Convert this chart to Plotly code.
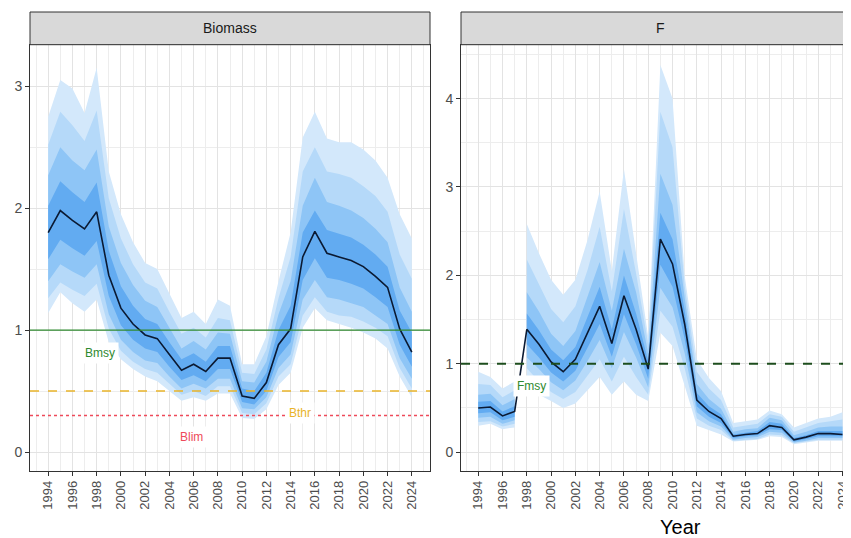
import plotly.graph_objects as go

years = list(range(1994, 2025))

# Biomass: median and quantile bands (inner -> outer)
b_med = [1.80, 1.98, 1.90, 1.83, 1.97, 1.45, 1.18, 1.05, 0.96, 0.93, 0.80, 0.67, 0.72, 0.66, 0.77, 0.77,
         0.46, 0.44, 0.57, 0.88, 1.01, 1.60, 1.81, 1.63, 1.60, 1.57, 1.52, 1.44, 1.35, 1.01, 0.82]
b_u1 = [2.02, 2.22, 2.13, 2.05, 2.21, 1.65, 1.36, 1.20, 1.09, 1.05, 0.90, 0.76, 0.81, 0.74, 0.87, 0.87,
        0.52, 0.50, 0.65, 1.00, 1.20, 1.80, 1.98, 1.82, 1.79, 1.76, 1.70, 1.62, 1.52, 1.16, 0.98]
b_u2 = [2.27, 2.50, 2.39, 2.31, 2.48, 1.85, 1.55, 1.37, 1.24, 1.19, 1.02, 0.85, 0.91, 0.84, 0.98, 0.97,
        0.58, 0.57, 0.74, 1.13, 1.40, 2.02, 2.25, 2.05, 2.02, 1.98, 1.92, 1.83, 1.72, 1.35, 1.15]
b_u3 = [2.52, 2.79, 2.68, 2.55, 2.80, 2.08, 1.75, 1.54, 1.39, 1.34, 1.15, 0.97, 1.02, 0.94, 1.10, 1.08,
        0.65, 0.64, 0.84, 1.26, 1.60, 2.30, 2.50, 2.30, 2.28, 2.25, 2.18, 2.10, 1.97, 1.62, 1.42]
b_u4 = [2.75, 3.05, 2.98, 2.78, 3.15, 2.30, 1.95, 1.72, 1.55, 1.50, 1.30, 1.10, 1.15, 1.05, 1.25, 1.20,
        0.72, 0.72, 0.95, 1.40, 1.80, 2.58, 2.79, 2.57, 2.54, 2.54, 2.48, 2.39, 2.25, 1.95, 1.75]
b_l1 = [1.58, 1.74, 1.67, 1.61, 1.73, 1.28, 1.04, 0.92, 0.85, 0.82, 0.70, 0.59, 0.63, 0.58, 0.68, 0.68,
        0.41, 0.39, 0.50, 0.78, 0.90, 1.41, 1.59, 1.43, 1.41, 1.38, 1.34, 1.27, 1.19, 0.88, 0.70]
b_l2 = [1.40, 1.54, 1.48, 1.43, 1.54, 1.13, 0.92, 0.82, 0.75, 0.73, 0.62, 0.52, 0.56, 0.52, 0.60, 0.60,
        0.36, 0.35, 0.45, 0.69, 0.80, 1.25, 1.41, 1.27, 1.25, 1.22, 1.19, 1.12, 1.05, 0.77, 0.60]
b_l3 = [1.26, 1.39, 1.33, 1.28, 1.38, 1.01, 0.83, 0.74, 0.68, 0.65, 0.56, 0.47, 0.50, 0.46, 0.54, 0.54,
        0.32, 0.31, 0.40, 0.62, 0.72, 1.12, 1.27, 1.15, 1.12, 1.11, 1.07, 1.02, 0.95, 0.69, 0.52]
b_l4 = [1.14, 1.31, 1.22, 1.15, 1.25, 0.90, 0.76, 0.68, 0.62, 0.58, 0.50, 0.42, 0.45, 0.42, 0.48, 0.48,
        0.28, 0.27, 0.35, 0.55, 0.65, 1.02, 1.18, 1.08, 1.05, 1.02, 0.98, 0.93, 0.85, 0.62, 0.45]

# Fishing mortality: median and quantile bands
f_med = [0.50, 0.51, 0.41, 0.46, 1.39, 1.22, 1.02, 0.91, 1.05, 1.35, 1.65, 1.23, 1.77, 1.39, 0.94, 2.41,
         2.13, 1.45, 0.59, 0.46, 0.38, 0.18, 0.20, 0.21, 0.30, 0.28, 0.14, 0.17, 0.21, 0.21, 0.20]
f_u1 = [0.57, 0.58, 0.46, 0.52, 1.57, 1.38, 1.16, 1.04, 1.19, 1.53, 1.87, 1.39, 2.00, 1.57, 1.03, 2.71,
        2.41, 1.60, 0.67, 0.52, 0.43, 0.20, 0.22, 0.24, 0.34, 0.32, 0.16, 0.19, 0.24, 0.24, 0.24]
f_u2 = [0.65, 0.66, 0.53, 0.60, 1.81, 1.59, 1.34, 1.20, 1.37, 1.76, 2.15, 1.60, 2.30, 1.81, 1.12, 3.15,
        2.80, 1.75, 0.77, 0.60, 0.49, 0.23, 0.26, 0.27, 0.39, 0.36, 0.19, 0.23, 0.28, 0.29, 0.29]
f_u3 = [0.77, 0.76, 0.62, 0.70, 2.18, 1.90, 1.62, 1.47, 1.65, 2.06, 2.55, 1.82, 2.75, 2.02, 1.22, 3.85,
        3.45, 1.88, 0.91, 0.72, 0.59, 0.28, 0.30, 0.32, 0.43, 0.40, 0.23, 0.28, 0.33, 0.35, 0.37]
f_u4 = [0.91, 0.85, 0.72, 0.80, 2.58, 2.25, 1.95, 1.78, 1.95, 2.40, 2.95, 2.05, 3.20, 2.25, 1.30, 4.38,
        4.00, 2.00, 1.05, 0.84, 0.69, 0.33, 0.35, 0.37, 0.47, 0.43, 0.28, 0.33, 0.38, 0.40, 0.45]
f_l1 = [0.44, 0.45, 0.36, 0.40, 1.22, 1.07, 0.90, 0.80, 0.92, 1.18, 1.45, 1.08, 1.56, 1.22, 0.83, 2.12,
        1.87, 1.28, 0.52, 0.40, 0.33, 0.16, 0.18, 0.19, 0.26, 0.25, 0.12, 0.15, 0.18, 0.18, 0.18]
f_l2 = [0.39, 0.40, 0.32, 0.36, 1.07, 0.94, 0.79, 0.70, 0.81, 1.03, 1.27, 0.95, 1.36, 1.07, 0.73, 1.86,
        1.64, 1.12, 0.45, 0.35, 0.29, 0.14, 0.16, 0.17, 0.23, 0.22, 0.11, 0.13, 0.16, 0.16, 0.16]
f_l3 = [0.34, 0.35, 0.29, 0.32, 0.95, 0.80, 0.68, 0.60, 0.68, 0.87, 1.05, 0.80, 1.08, 0.85, 0.65, 1.60,
        1.42, 0.95, 0.38, 0.30, 0.25, 0.13, 0.14, 0.15, 0.20, 0.19, 0.10, 0.12, 0.14, 0.14, 0.14]
f_l4 = [0.30, 0.32, 0.26, 0.28, 0.85, 0.65, 0.58, 0.50, 0.55, 0.70, 0.85, 0.65, 0.80, 0.65, 0.58, 1.35,
        1.20, 0.75, 0.30, 0.25, 0.20, 0.12, 0.13, 0.14, 0.18, 0.17, 0.09, 0.11, 0.13, 0.13, 0.13]
f_segments = [(1994, 1997), (1998, 2024)]

# reference points
bmsy, bthr, blim, fmsy = 1.0, 0.5, 0.3, 1.0

band_colors = ["#d3e8fb", "#b5d9f9", "#8ec5f6", "#62abf1"]
line_color = "#0b1a33"
font = "Liberation Sans, Arial, sans-serif"

# the page body adds an 8px margin, so the figure is a bit smaller than the window
W, H = 843, 530

fig = go.Figure()


def add_bands(uppers, lowers, med, xa, ya, segments):
    for (a, b) in segments:
        i0, i1 = years.index(a), years.index(b) + 1
        xs = years[i0:i1]
        for up, lo, col in zip(uppers, lowers, band_colors):
            fig.add_trace(go.Scatter(
                x=xs + xs[::-1], y=up[i0:i1] + lo[i0:i1][::-1],
                fill="toself", fillcolor=col, line=dict(width=0),
                mode="lines", hoverinfo="skip", showlegend=False,
                xaxis=xa, yaxis=ya))
    fig.add_trace(go.Scatter(x=years, y=med, mode="lines",
                             line=dict(color=line_color, width=1.6),
                             showlegend=False, xaxis=xa, yaxis=ya))


add_bands([b_u4, b_u3, b_u2, b_u1], [b_l4, b_l3, b_l2, b_l1], b_med, "x", "y", [(1994, 2024)])
add_bands([f_u4, f_u3, f_u2, f_u1], [f_l4, f_l3, f_l2, f_l1], f_med, "x2", "y2", f_segments)

# reference lines
fig.add_shape(type="line", xref="x domain", yref="y", x0=0, x1=1, y0=bmsy, y1=bmsy,
              line=dict(color="#2f8a2f", width=1.3), layer="above")
fig.add_shape(type="line", xref="x domain", yref="y", x0=0, x1=1, y0=bthr, y1=bthr,
              line=dict(color="#e9b42a", width=1.6, dash="dash"), layer="above")
fig.add_shape(type="line", xref="x domain", yref="y", x0=0, x1=1, y0=blim, y1=blim,
              line=dict(color="#ee4a5a", width=1.6, dash="dot"), layer="above")
fig.add_shape(type="line", xref="x2 domain", yref="y2", x0=0, x1=1, y0=fmsy, y1=fmsy,
              line=dict(color="#1d4d1d", width=2, dash="dash"), layer="above")

labels = [
    ("Bmsy", 1998.3, 0.81, "#2f8a2f", "x", "y"),
    ("Bthr", 2014.75, 0.32, "#e9b42a", "x", "y"),
    ("Blim", 2005.8, 0.12, "#ee4a5a", "x", "y"),
    ("Fmsy", 1998.4, 0.75, "#2f8a2f", "x2", "y2"),
]
for txt, xv, yv, col, xa, ya in labels:
    fig.add_annotation(text=txt, x=xv, y=yv, xref=xa, yref=ya, showarrow=False,
                       font=dict(color=col, size=12, family=font),
                       bgcolor="white", borderpad=3)

# panel positions (figure pixels)
left_x = (22, 422)
right_x = (453, 843)
plot_top, plot_bot = 36.7, 462.7
strip_top = 4


def px(x):
    return x / W


def py(y):
    return (H - y) / H


# facet strips
for (x0, x1), cx, title in [(left_x, 222, "Biomass"), ((right_x[0], W + 20), 652, "F")]:
    fig.add_shape(type="rect", xref="paper", yref="paper", x0=px(x0), x1=px(x1),
                  y0=py(plot_top), y1=py(strip_top), fillcolor="#d9d9d9",
                  line=dict(color="#333333", width=1))
    fig.add_annotation(text=title, xref="paper", yref="paper",
                       x=px(cx), y=py((plot_top + strip_top) / 2),
                       xanchor="center", yanchor="middle", showarrow=False,
                       font=dict(size=14, color="#1a1a1a", family=font))

fig.add_annotation(text="Year", xref="paper", yref="paper", x=px(672), y=py(519),
                   xanchor="center", yanchor="middle",
                   showarrow=False, font=dict(size=20, color="black", family=font))

xaxis_common = dict(
    tickmode="linear", tick0=1994, dtick=2, tickangle=-90,
    ticks="outside", ticklen=4, tickcolor="#333333",
    tickfont=dict(size=13, color="#4d4d4d", family=font),
    showgrid=True, gridcolor="#e3e3e3", gridwidth=1,
    minor=dict(dtick=1, tick0=1994, showgrid=True, gridcolor="#ededed", gridwidth=1),
    showline=True, linecolor="#333333", linewidth=1, zeroline=False,
)
yaxis_common = dict(
    tickmode="linear", tick0=0, dtick=1,
    ticks="outside", ticklen=4, tickcolor="#333333",
    tickfont=dict(size=14, color="#4d4d4d", family=font),
    showgrid=True, gridcolor="#e3e3e3", gridwidth=1,
    minor=dict(dtick=0.5, showgrid=True, gridcolor="#ededed", gridwidth=1),
    showline=True, linecolor="#333333", linewidth=1, zeroline=False,
)

ydom = [py(plot_bot), py(plot_top)]
fig.update_layout(
    width=W, height=H,
    margin=dict(l=0, r=0, t=0, b=0),
    paper_bgcolor="white", plot_bgcolor="white",
    font=dict(family=font),
    xaxis=dict(xaxis_common, domain=[px(left_x[0]), px(left_x[1])], range=[1992.5, 2025.5],
               mirror=True, anchor="y"),
    yaxis=dict(yaxis_common, domain=ydom, range=[-0.153, 3.34], mirror=True, anchor="x"),
    xaxis2=dict(xaxis_common, domain=[px(right_x[0]), 1.0], range=[1992.58, 2024.7],
                mirror=True, anchor="y2"),
    yaxis2=dict(yaxis_common, domain=ydom, range=[-0.21, 4.61], mirror=False, anchor="x2"),
)

fig.write_html("out.html")
